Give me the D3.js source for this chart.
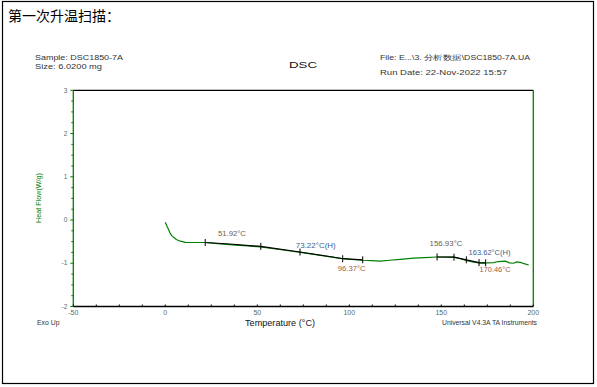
<!DOCTYPE html>
<html>
<head>
<meta charset="utf-8">
<script src="https://cdn.jsdelivr.net/npm/d3@7"></script>
<style>
  body { margin: 0; background: #fff; }
  svg { display: block; }
</style>
</head>
<body>
<svg id="chart" width="597" height="387"></svg>
<script>
// curve data (temperature °C / heat flow W/g)
const temps    = [0, 1, 2, 2.7, 3.5, 4.5, 6, 8.2, 10.9, 15, 21.7, 30, 38, 45, 51.6, 60, 67, 73.4, 80, 88, 95.5, 101, 107.3, 112, 116.8, 122, 127.7, 135, 141, 147.7, 152, 156.7, 160, 164, 167, 171.2, 175, 178.4, 181, 184.8, 187, 189.3, 191, 193, 195, 197.5];
const heatFlow = [-0.05, -0.15, -0.24, -0.31, -0.36, -0.40, -0.45, -0.49, -0.515, -0.52, -0.52, -0.55, -0.58, -0.60, -0.62, -0.67, -0.71, -0.75, -0.79, -0.84, -0.885, -0.91, -0.93, -0.94, -0.95, -0.93, -0.91, -0.88, -0.87, -0.855, -0.855, -0.86, -0.89, -0.94, -0.97, -1.0, -0.99, -0.985, -0.96, -0.95, -0.99, -1.0, -0.97, -0.98, -1.01, -1.04];

// glass transition analysis lines
const tg1Temps = [21.7, 35, 51.9, 73.2, 90, 96.4, 107.3];
const tg1Flow  = [-0.52, -0.555, -0.61, -0.74, -0.85, -0.895, -0.92];
const tg1Marks = [21.7, 51.9, 73.2, 96.4, 107.3];
const tg2Temps = [147.7, 156.9, 163.6, 170.5, 174.1];
const tg2Flow  = [-0.855, -0.86, -0.92, -0.985, -0.99];
const tg2Marks = [147.7, 156.9, 163.6, 170.5, 174.1];

const labelTexts = ['51.92°C', '73.22°C(H)', '96.37°C', '156.93°C', '163.62°C(H)', '170.46°C'];
const labelTemps = [28.6, 70.9, 93.7, 143.6, 164.8, 170.8];
const labelFlow  = [-0.36, -0.64, -1.18, -0.61, -0.82, -1.2];
const labelColors = ['#6b5d50', '#3f5f8f', '#a0603a', '#6b5d50', '#3f5f8f', '#a0603a'];
const labelWidths = [28, 40, 28, 33, 42, 31];

const xTicks = [-50, 0, 50, 100, 150, 200];
const yTicks = [-2, -1, 0, 1, 2, 3];

const svg = d3.select('#chart');
const x = d3.scaleLinear().domain([-50, 200]).range([73.3, 533.3]);
const y = d3.scaleLinear().domain([-2, 3]).range([306.5, 90.3]);

const small = 'Liberation Sans, Arial, sans-serif';

// stretch text to the width it has in the original print
function addText(px, py, str, size, len, color, anchor) {
  const t = svg.append('text').attr('x', px).attr('y', py)
    .attr('font-family', small).attr('font-size', size).attr('fill', color || '#333')
    .attr('text-anchor', anchor || 'start')
    .text(str);
  if (len) t.attr('textLength', len).attr('lengthAdjust', 'spacingAndGlyphs');
  return t;
}

// outer frame
svg.append('rect').attr('x', 2.5).attr('y', 1.5).attr('width', 591).attr('height', 382)
  .attr('fill', 'none').attr('stroke', '#000').attr('stroke-width', 1.2);

// title
svg.append('text').attr('x', 8).attr('y', 21)
  .attr('font-family', 'Noto Sans CJK SC').attr('font-size', 14).attr('fill', '#000')
  .text('第一次升温扫描：');

addText(35, 60, 'Sample: DSC1850-7A', 6.5, 88);
addText(35, 68.5, 'Size:  6.0200 mg', 6.5, 67);
addText(380, 60, 'File: E...\\3. 分析数据\\DSC1850-7A.UA', 6.5, 150);
addText(380, 74.5, 'Run Date: 22-Nov-2022 15:57', 6.5, 127);
addText(289, 68, 'DSC', 9, 28, '#111');

// axes frame: top & bottom black, left & right green
svg.append('line').attr('x1', x(-50)).attr('x2', x(200)).attr('y1', y(3)).attr('y2', y(3)).attr('stroke', '#000').attr('stroke-width', 1.3);
svg.append('line').attr('x1', x(-50)).attr('x2', x(200)).attr('y1', y(-2)).attr('y2', y(-2)).attr('stroke', '#000').attr('stroke-width', 1.3);
svg.append('line').attr('x1', x(-50)).attr('x2', x(-50)).attr('y1', y(3)).attr('y2', y(-2)).attr('stroke', '#008000').attr('stroke-width', 1.3);
svg.append('line').attr('x1', x(200)).attr('x2', x(200)).attr('y1', y(3)).attr('y2', y(-2)).attr('stroke', '#008000').attr('stroke-width', 1.3);

// minor/major ticks
const xMinor = d3.range(-50, 200.1, 12.5);
svg.append('g').selectAll('line').data(xMinor).join('line')
  .attr('x1', d => x(d)).attr('x2', d => x(d))
  .attr('y1', y(-2)).attr('y2', y(-2) - 2)
  .attr('stroke', '#000').attr('stroke-width', 1);
const yMinor = d3.range(-2, 3.01, 0.25);
svg.append('g').selectAll('line').data(yMinor).join('line')
  .attr('x1', x(-50)).attr('x2', d => x(-50) - (d % 1 === 0 ? 3 : 2))
  .attr('y1', d => y(d)).attr('y2', d => y(d))
  .attr('stroke', '#008000').attr('stroke-width', 1);

const tickColor = '#4d6d6d';
svg.append('g').selectAll('text').data(xTicks).join('text')
  .attr('x', d => x(d)).attr('y', y(-2) + 8)
  .attr('text-anchor', 'middle').attr('font-family', small).attr('font-size', 7).attr('fill', tickColor)
  .text(d => d);
svg.append('g').selectAll('text').data(yTicks).join('text')
  .attr('x', x(-50) - 6).attr('y', d => y(d) + 2.2)
  .attr('text-anchor', 'end').attr('font-family', small).attr('font-size', 6.5).attr('fill', tickColor)
  .text(d => d);

// axis titles
svg.append('text').attr('transform', 'translate(41,198) rotate(-90)')
  .attr('text-anchor', 'middle').attr('font-family', small).attr('font-size', 6.5).attr('fill', '#008000')
  .attr('textLength', 50).attr('lengthAdjust', 'spacingAndGlyphs')
  .text('Heat Flow(W/g)');
addText(245, 325.5, 'Temperature (°C)', 8.5, 70, '#111');
addText(37, 325, 'Exo Up', 6.3, 22.5);
addText(442, 325, 'Universal V4.3A TA Instruments', 6.3, 95);

// heat-flow curve
svg.append('path').datum(temps.map((t, i) => [t, heatFlow[i]]))
  .attr('d', d3.line().x(d => x(d[0])).y(d => y(d[1])))
  .attr('fill', 'none').attr('stroke', '#008000').attr('stroke-width', 1.2);

// analysis lines and markers
function tgGroup(ts, fs, marks) {
  const pts = ts.map((t, i) => [t, fs[i]]);
  const lin = d3.line().x(d => x(d[0])).y(d => y(d[1]));
  svg.append('path').datum(pts).attr('d', lin)
    .attr('fill', 'none').attr('stroke', '#000').attr('stroke-width', 1.2);
  const interp = t => {
    for (let i = 0; i < ts.length - 1; i++) {
      if (t >= ts[i] && t <= ts[i + 1]) return fs[i] + (fs[i + 1] - fs[i]) * (t - ts[i]) / (ts[i + 1] - ts[i]);
    }
    return fs[fs.length - 1];
  };
  svg.append('g').selectAll('line').data(marks).join('line')
    .attr('x1', d => x(d)).attr('x2', d => x(d))
    .attr('y1', d => y(interp(d)) - 3.5).attr('y2', d => y(interp(d)) + 3.5)
    .attr('stroke', '#000').attr('stroke-width', 1);
}
tgGroup(tg1Temps, tg1Flow, tg1Marks);
tgGroup(tg2Temps, tg2Flow, tg2Marks);

svg.append('g').selectAll('text').data(labelTexts).join('text')
  .attr('x', (d, i) => x(labelTemps[i])).attr('y', (d, i) => y(labelFlow[i]))
  .attr('font-family', small).attr('font-size', 6.3).attr('fill', (d, i) => labelColors[i])
  .attr('textLength', (d, i) => labelWidths[i]).attr('lengthAdjust', 'spacingAndGlyphs')
  .text(d => d);
</script>
</body>
</html>
